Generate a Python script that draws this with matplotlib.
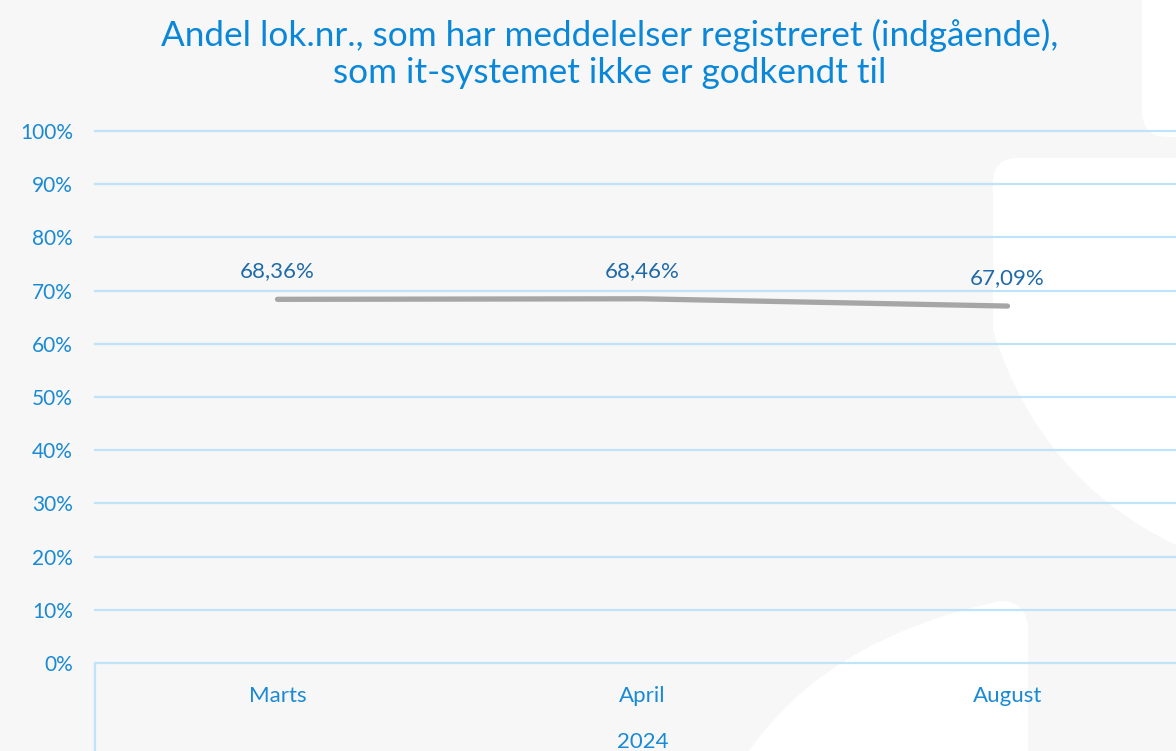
import numpy as np
import matplotlib
matplotlib.use('Agg')
import matplotlib.pyplot as plt
from matplotlib.path import Path
from matplotlib.patches import PathPatch, FancyBboxPatch

# Data
months = ['Marts', 'April', 'August']
year_label = '2024'
shares = [68.36, 68.46, 67.09]
value_labels = ['68,36%', '68,46%', '67,09%']
y_ticks = [0, 10, 20, 30, 40, 50, 60, 70, 80, 90, 100]

title = 'Andel lok.nr., som har meddelelser registreret (indgående),\nsom it-systemet ikke er godkendt til'

plt.rcParams['font.family'] = ['Lato', 'DejaVu Sans']

W, H = 1176, 751
fig = plt.figure(figsize=(W / 100, H / 100), dpi=100)
fig.patch.set_facecolor('#f7f7f7')

# decorative background shapes (pixel coords)
bg = fig.add_axes([0, 0, 1, 1], zorder=0)
bg.set_xlim(0, W)
bg.set_ylim(H, 0)
bg.axis('off')

# top-right block
bg.add_patch(FancyBboxPatch((1142, -60), 200, 197, boxstyle='round,pad=0,rounding_size=26',
                            fc='white', ec='none'))
# right shape with curved lower edge
verts = [(1018, 158), (1300, 158), (1300, 560), (1176, 545),
         (1040, 480), (993, 330), (993, 183), (993, 158), (1018, 158)]
codes = [Path.MOVETO, Path.LINETO, Path.LINETO, Path.LINETO,
         Path.CURVE3, Path.CURVE3, Path.LINETO, Path.CURVE3, Path.CURVE3]
bg.add_patch(PathPatch(Path(verts, codes), fc='white', ec='none'))
# bottom shape
verts = [(743, 760), (820, 640), (1000, 601), (1028, 601), (1028, 630),
         (1028, 760), (743, 760)]
codes = [Path.MOVETO, Path.CURVE3, Path.CURVE3, Path.CURVE3, Path.CURVE3,
         Path.LINETO, Path.CLOSEPOLY]
bg.add_patch(PathPatch(Path(verts, codes), fc='white', ec='none'))

# main chart
grid_col = '#bfe4fa'
left = 95 / W
bottom = (H - 663) / H
height = (663 - 131) / H
width = (3 * 365) / W
ax = fig.add_axes([left, bottom, width, height], zorder=1)
ax.set_facecolor('none')

x = np.arange(len(months))
ax.plot(x, shares, color='#a6a6a6', lw=3.8, solid_capstyle='round', zorder=3)
for xi, yi, lab in zip(x, shares, value_labels):
    ax.annotate(lab, (xi, yi), xytext=(0, 13), textcoords='offset points',
                ha='center', va='bottom', fontsize=16, color='#1f6aa8')

ax.set_xlim(-0.5, len(months) - 0.5)
ax.set_ylim(0, 100)
ax.set_yticks(y_ticks)
ax.set_yticklabels([f'{t}%' for t in y_ticks], fontsize=15, color='#1a8ad4')
ax.set_xticks(x)
ax.set_xticklabels(months, fontsize=16, color='#1a8ad4')
ax.tick_params(axis='both', length=0)
ax.tick_params(axis='y', pad=16)
ax.tick_params(axis='x', pad=16.5)
for t in y_ticks[1:]:
    ax.axhline(t, color=grid_col, lw=1.6, zorder=1, clip_on=False)
for s in ['top', 'right', 'left']:
    ax.spines[s].set_visible(False)
ax.spines['bottom'].set_color(grid_col)
ax.spines['bottom'].set_linewidth(1.6)

# group bracket line and year label
ax.plot([0, 0], [0, -0.2], transform=ax.transAxes, color=grid_col, lw=1.6, clip_on=False)
ax.text(0.5, -0.148, year_label, transform=ax.transAxes,
        ha='center', va='center', fontsize=16, color='#1a8ad4')

fig.text(610 / W, 1 - 54 / H, title, ha='center', va='center', fontsize=25.3,
         color='#0a87d8', linespacing=1.22)

fig.savefig('out.png', dpi=100, facecolor=fig.get_facecolor())
